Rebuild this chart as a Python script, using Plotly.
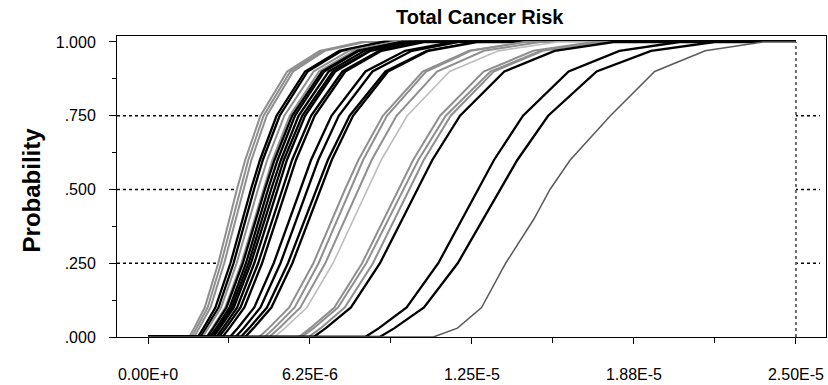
import plotly.graph_objects as go

# Cumulative probability levels at which each curve's risk quantiles were read
PROBS = [0.0, 0.03, 0.10, 0.25, 0.40, 0.50, 0.60, 0.75, 0.90, 0.97, 1.0]

# Risk quantiles for each curve, in units of 1E-6
c01 = [1.59, 1.78, 2.19, 2.71, 3.14, 3.43, 3.75, 4.34, 5.37, 6.62, 8.23]
c02 = [1.68, 1.87, 2.30, 2.82, 3.26, 3.55, 3.87, 4.46, 5.49, 6.73, 8.31]
c03 = [1.78, 1.97, 2.41, 2.94, 3.38, 3.67, 3.99, 4.58, 5.60, 6.82, 8.37]
c04 = [1.92, 2.14, 2.60, 3.18, 3.65, 3.97, 4.32, 4.96, 6.06, 7.38, 9.05]
c05 = [2.02, 2.24, 2.72, 3.30, 3.77, 4.09, 4.43, 5.08, 6.16, 7.47, 9.12]
c06 = [2.10, 2.32, 2.82, 3.42, 3.91, 4.24, 4.60, 5.26, 6.39, 7.75, 9.46]
c07 = [2.25, 2.48, 2.98, 3.60, 4.11, 4.44, 4.80, 5.47, 6.60, 7.95, 9.63]
c08 = [2.28, 2.52, 3.03, 3.66, 4.17, 4.51, 4.88, 5.56, 6.71, 8.08, 9.79]
c09 = [2.39, 2.63, 3.15, 3.78, 4.29, 4.63, 5.00, 5.67, 6.80, 8.14, 9.82]
c10 = [2.46, 2.70, 3.23, 3.88, 4.40, 4.75, 5.13, 5.81, 6.97, 8.35, 10.07]
c11 = [2.51, 2.77, 3.31, 3.97, 4.51, 4.86, 5.24, 5.95, 7.13, 8.54, 10.30]
c12 = [2.63, 2.89, 3.44, 4.10, 4.63, 4.98, 5.36, 6.06, 7.22, 8.59, 10.26]
c13 = [2.73, 3.00, 3.57, 4.25, 4.80, 5.17, 5.56, 6.29, 7.50, 8.92, 10.65]
c14 = [2.87, 3.14, 3.72, 4.40, 4.96, 5.32, 5.71, 6.43, 7.61, 9.01, 10.69]
c15 = [3.16, 3.46, 4.10, 4.85, 5.46, 5.86, 6.29, 7.08, 8.39, 9.92, 11.78]
c16 = [3.38, 3.69, 4.34, 5.11, 5.73, 6.13, 6.57, 7.36, 8.66, 10.18, 12.01]
c17 = [3.58, 3.90, 4.59, 5.40, 6.05, 6.48, 6.94, 7.78, 9.16, 10.76, 12.70]
c18 = [3.75, 4.07, 4.76, 5.57, 6.22, 6.64, 7.09, 7.91, 9.26, 10.82, 12.75]
c19 = [4.29, 4.66, 5.45, 6.38, 7.11, 7.60, 8.12, 9.06, 10.60, 12.39, 14.59]
c20 = [4.49, 4.87, 5.66, 6.58, 7.31, 7.79, 8.30, 9.22, 10.73, 12.46, 14.57]
c21 = [4.67, 5.06, 5.88, 6.84, 7.61, 8.10, 8.63, 9.59, 11.15, 12.96, 15.15]
c22 = [4.88, 5.28, 6.13, 7.14, 7.93, 8.45, 9.00, 10.00, 11.64, 13.52, 15.80]
c23 = [5.82, 6.26, 7.19, 8.26, 9.11, 9.65, 10.23, 11.27, 12.95, 14.87, 17.18]
c24 = [5.93, 6.39, 7.33, 8.42, 9.29, 9.84, 10.43, 11.49, 13.21, 15.16, 17.52]
c25 = [6.20, 6.66, 7.59, 8.68, 9.53, 10.07, 10.64, 11.68, 13.34, 15.23, 17.42]
c26 = [6.39, 6.86, 7.83, 8.95, 9.82, 10.38, 10.97, 12.04, 13.75, 15.69, 17.96]
c27 = [8.38, 8.91, 9.98, 11.20, 12.13, 12.73, 13.35, 14.47, 16.23, 18.19, 20.50]
c28 = [8.94, 9.51, 10.65, 11.95, 12.94, 13.58, 14.25, 15.44, 17.31, 19.41, 21.86]
c29 = [11.01, 11.94, 12.87, 13.80, 14.89, 15.51, 16.29, 17.84, 19.55, 21.50, 23.73]

CURVES = [c01, c02, c03, c04, c05, c06, c07, c08, c09, c10, c11, c12, c13, c14, c15,
          c16, c17, c18, c19, c20, c21, c22, c23, c24, c25, c26, c27, c28, c29]
# line style kind for each curve: k = black, g = gray, l = light gray, d = dark gray
KINDS = ["g", "g", "g", "k", "k", "g", "g", "k", "k", "k", "k", "k", "k", "k", "k",
         "k", "k", "k", "g", "g", "g", "l", "g", "g", "g", "k", "k", "k", "d"]

X_MAX = 2.5e-5
X_TICKS = [0.0, 6.25e-6, 1.25e-5, 1.875e-5, 2.5e-5]
X_TICK_TEXT = ["0.00E+0", "6.25E-6", "1.25E-5", "1.88E-5", "2.50E-5"]
Y_TICKS = [0.0, 0.25, 0.5, 0.75, 1.0]
Y_TICK_TEXT = [".000", ".250", ".500", ".750", "1.000"]
GRID_LEVELS = [0.25, 0.5, 0.75]

STYLE = {
    "k": dict(color="#000000", width=2.3),
    "g": dict(color="#8f8f8f", width=2.0),
    "l": dict(color="#bdbdbd", width=1.6),
    "d": dict(color="#5a5a5a", width=1.5),
}

FONT = "Arial, Liberation Sans, sans-serif"

fig = go.Figure()
for q, kind in zip(CURVES, KINDS):
    xs = [0.0] + [v * 1e-6 for v in q] + [X_MAX]
    ys = [0.0] + PROBS + [1.0]
    fig.add_trace(go.Scatter(
        x=xs, y=ys, mode="lines", line=dict(**STYLE[kind], shape="linear"),
        fill="tozeroy", fillcolor="white", showlegend=False, hoverinfo="skip",
    ))

shapes = []
for g in GRID_LEVELS:
    shapes.append(dict(type="line", xref="paper", yref="y", x0=0, x1=0.9915, y0=g, y1=g,
                       line=dict(color="black", width=1.5, dash="dot"), layer="below"))
shapes.append(dict(type="line", xref="x", yref="y", x0=X_MAX, x1=X_MAX, y0=0, y1=1,
                   line=dict(color="#6a6a6a", width=2, dash="dot"), layer="above"))

fig.update_layout(
    width=828, height=385,
    margin=dict(l=117, r=2, t=36, b=48),
    paper_bgcolor="white", plot_bgcolor="white",
    font=dict(family=FONT, size=16, color="black"),
    shapes=shapes,
    annotations=[
        dict(text="<b>Total Cancer Risk</b>", xref="paper", yref="paper", x=0.512, y=1.062,
             xanchor="center", yanchor="middle", showarrow=False,
             font=dict(family=FONT, size=20, color="black")),
        dict(text="<b>Probability</b>", xref="paper", yref="paper", x=-0.12, y=0.49,
             xanchor="center", yanchor="middle", showarrow=False, textangle=-90,
             font=dict(family=FONT, size=24, color="black")),
    ],
)
fig.update_xaxes(
    range=[-1.196e-6, 2.616e-5], showgrid=False, zeroline=False, automargin=False,
    showline=True, linecolor="black", linewidth=1, mirror=True,
    ticks="outside", ticklen=6, tickcolor="black", tickwidth=1,
    tickvals=X_TICKS, ticktext=X_TICK_TEXT, ticklabelstandoff=17,
    minor=dict(tickvals=[3.125e-6, 9.375e-6, 1.5625e-5, 2.1875e-5], ticks="outside",
               ticklen=5, tickcolor="black", showgrid=False),
    tickfont=dict(family=FONT, size=16),
)
fig.update_yaxes(
    range=[0, 1.0203], showgrid=False, zeroline=False, automargin=False,
    showline=True, linecolor="black", linewidth=1, mirror=True,
    ticks="outside", ticklen=7, tickcolor="black", tickwidth=1,
    tickvals=Y_TICKS, ticktext=Y_TICK_TEXT, ticklabelstandoff=10,
    minor=dict(tickvals=[0.125, 0.375, 0.625, 0.875], ticks="outside",
               ticklen=4, tickcolor="black", showgrid=False),
    tickfont=dict(family=FONT, size=16),
)

fig.write_html("out.html", post_script="document.body.style.margin='0px';",
               config={"displayModeBar": False})
